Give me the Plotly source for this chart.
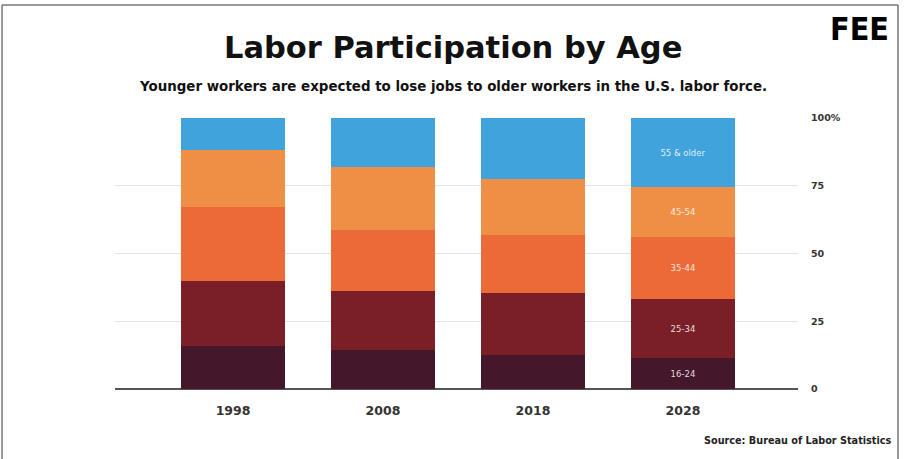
import plotly.graph_objects as go

years = ["1998", "2008", "2018", "2028"]

# share of labor force (%) by age group, bottom to top
age_16_24 = [16.0, 14.3, 12.5, 11.4]
age_25_34 = [24.0, 21.8, 22.9, 21.8]
age_35_44 = [27.2, 22.5, 21.4, 22.8]
age_45_54 = [21.0, 23.2, 20.7, 18.5]
age_55_up = [11.8, 18.2, 22.5, 25.5]

groups = ["16-24", "25-34", "35-44", "45-54", "55 & older"]
series = [age_16_24, age_25_34, age_35_44, age_45_54, age_55_up]
colors = ["#45172b", "#7a1f27", "#ec6a37", "#ef8e45", "#41a3dc"]

y_ticks = [0, 25, 50, 75, 100]
y_ticktext = ["0", "25", "50", "75", "100%"]

BOLD = "DejaVu Sans"

fig = go.Figure()
for name, vals, col in zip(groups, series, colors):
    # only the last bar carries the group labels
    labels = [""] * (len(years) - 1) + [name]
    fig.add_trace(go.Bar(
        x=years, y=vals, name=name,
        marker=dict(color=col, line=dict(width=0)),
        text=labels, textposition="inside", insidetextanchor="middle",
        textangle=0,
        textfont=dict(size=8.5, color="rgba(255,255,255,0.85)", family=BOLD),
        hoverinfo="skip",
    ))

fig.update_layout(
    barmode="stack",
    bargap=0.307,
    width=905, height=459,
    autosize=False,
    showlegend=False,
    paper_bgcolor="white",
    plot_bgcolor="white",
    margin=dict(l=115, r=107, t=118, b=70),
    font=dict(family=BOLD, color="#333"),
    uniformtext=dict(minsize=7, mode="show"),
    xaxis=dict(
        range=[-0.787, 3.767],
        showgrid=False, showline=False, zeroline=False,
        tickfont=dict(size=12.5, color="#333", family=BOLD, weight=700),
        ticklabelstandoff=12,
    ),
    yaxis=dict(
        range=[0, 100],
        side="right",
        tickvals=y_ticks, ticktext=y_ticktext,
        showgrid=True, gridcolor="#e3e3e3", gridwidth=1,
        zeroline=True, zerolinecolor="#555", zerolinewidth=2,
        showline=False,
        tickfont=dict(size=9.5, color="#333", family=BOLD, weight=700),
        ticklabelstandoff=12,
    ),
)

fig.add_annotation(
    text="Labor Participation by Age",
    xref="paper", yref="paper", x=0.495, y=1.26,
    xanchor="center", yanchor="middle", showarrow=False,
    font=dict(size=30.5, color="#111", family=BOLD, weight=700),
)
fig.add_annotation(
    text="Younger workers are expected to lose jobs to older workers in the U.S. labor force.",
    xref="paper", yref="paper", x=0.495, y=1.118,
    xanchor="center", yanchor="middle", showarrow=False,
    font=dict(size=13.4, color="#111", family=BOLD, weight=700),
)
fig.add_annotation(
    text="FEE",
    xref="paper", yref="paper", x=1.136, y=1.327,
    xanchor="right", yanchor="middle", showarrow=False,
    font=dict(size=32, color="#000", family="DejaVu Sans Condensed", weight=900),
)
fig.add_annotation(
    text="Source: Bureau of Labor Statistics",
    xref="paper", yref="paper", x=1.14, y=-0.19,
    xanchor="right", yanchor="middle", showarrow=False,
    font=dict(size=9.7, color="#222", family=BOLD, weight=700),
)

# thin grey frame around the graphic
for x0, y0, x1, y1 in [(-0.1654, 1.417, 1.1464, 1.417),
                       (-0.1654, 1.417, -0.1654, -0.26),
                       (1.1464, 1.417, 1.1464, -0.26)]:
    fig.add_shape(type="line", xref="paper", yref="paper",
                  x0=x0, y0=y0, x1=x1, y1=y1,
                  line=dict(color="#777", width=1.5))

fig.write_html(
    "out.html",
    config={"displayModeBar": False},
    post_script="document.body.style.margin='0';document.body.style.overflow='hidden';",
)
